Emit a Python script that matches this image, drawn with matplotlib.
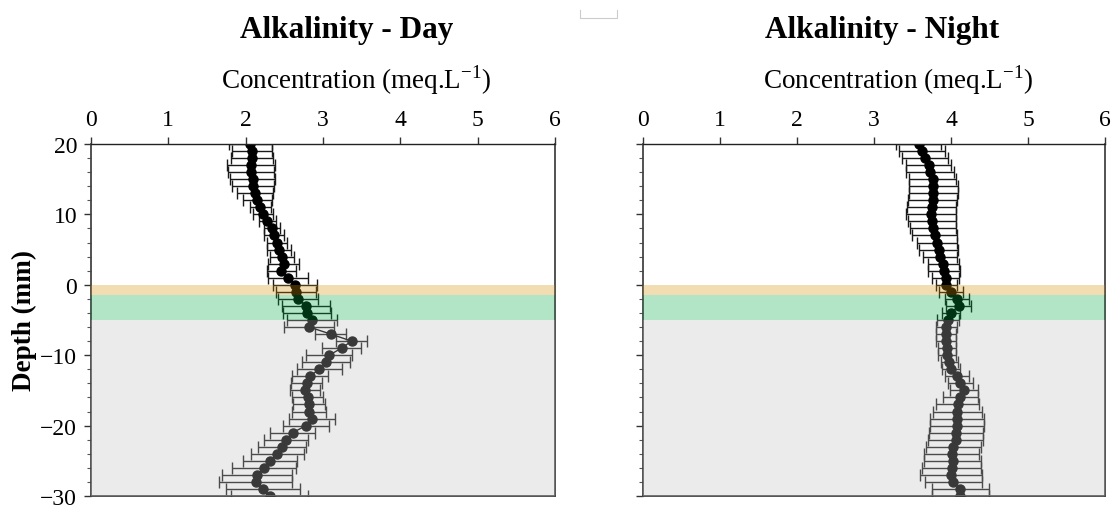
#!/usr/bin/env python
# %%
import matplotlib.pyplot as plt
import numpy as np
from matplotlib.lines import Line2D
from matplotlib.ticker import MultipleLocator

plt.rcParams['font.family'] = ['Liberation Serif', 'DejaVu Serif']
plt.rcParams['mathtext.fontset'] = 'custom'
plt.rcParams['mathtext.rm'] = 'Liberation Serif'

# %%
# depth of each profile point (mm), 0 = sediment surface
depth = [20, 19, 18, 17, 16, 15, 14, 13, 12, 11, 10, 9, 8, 7, 6, 5, 4, 3, 2, 1, 0,
         -1, -2, -3, -4, -5, -6, -7, -8, -9, -10, -11, -12, -13, -14, -15, -16, -17,
         -18, -19, -20, -21, -22, -23, -24, -25, -26, -27, -28, -29, -30]

# alkalinity day profile (meq/L) and its error
alk_day = [2.06, 2.08, 2.08, 2.07, 2.07, 2.09, 2.10, 2.12, 2.15, 2.19, 2.22, 2.28, 2.34,
           2.37, 2.40, 2.43, 2.47, 2.49, 2.46, 2.55, 2.64, 2.65, 2.68, 2.78, 2.79, 2.86,
           2.82, 3.10, 3.37, 3.24, 3.08, 3.04, 2.95, 2.83, 2.79, 2.77, 2.80, 2.82, 2.82,
           2.86, 2.78, 2.61, 2.52, 2.47, 2.41, 2.32, 2.24, 2.15, 2.13, 2.22, 2.31]
err_day = [.28, .26, .27, .31, .30, .29, .27, .23, .19, .14, .13, .11, .10, .13, .13, .16,
           .16, .20, .19, .26, .28, .26, .26, .31, .31, .32, .32, .20, .20, .25, .30, .31,
           .29, .23, .20, .19, .20, .21, .22, .30, .30, .29, .28, .31, .34, .35, .41, .45,
           .47, .48, .50]

# alkalinity night profile
alk_night = [3.58, 3.62, 3.66, 3.71, 3.73, 3.76, 3.77, 3.77, 3.76, 3.75, 3.74, 3.75, 3.77,
             3.79, 3.82, 3.84, 3.86, 3.90, 3.91, 3.93, 3.94, 4.00, 4.08, 4.10, 4.00, 3.96,
             3.94, 3.94, 3.94, 3.95, 3.95, 3.98, 4.00, 4.08, 4.12, 4.17, 4.12, 4.09, 4.08,
             4.08, 4.08, 4.07, 4.06, 4.03, 4.01, 4.02, 4.01, 4.00, 4.03, 4.12, 4.12]
err_night = [.29, .30, .30, .29, .31, .31, .32, .32, .32, .32, .32, .31, .30, .29, .26, .25,
             .22, .20, .21, .18, .14, .15, .16, .16, .12, .14, .14, .13, .13, .12, .12, .11,
             .12, .16, .16, .18, .23, .28, .32, .35, .35, .35, .36, .36, .36, .37, .38, .40,
             .37, .37, .37]

# layers (top, bottom, colour) shaded over the profiles
layers = [(0, -1.5, (0.83, 0.57, 0.0)),
          (-1.5, -5, (0.0, 0.67, 0.27)),
          (-5, -30, (0.74, 0.74, 0.74))]

titles = ['Alkalinity - Day', 'Alkalinity - Night']

# %%
fig = plt.figure(figsize=(11.12, 5.06), dpi=100)
ax1 = fig.add_axes([0.0818, 0.0178, 0.4173, 0.6957])
ax2 = fig.add_axes([0.5782, 0.0178, 0.4155, 0.6957])

for ax, x, xerr, title in zip([ax1, ax2], [alk_day, alk_night], [err_day, err_night], titles):
    ax.errorbar(x, depth, xerr=xerr, fmt='-o', color='k', ms=6.5, lw=1,
                ecolor='#1a1a1a', elinewidth=1, capsize=4, capthick=1, zorder=2)
    # shaded layers sit on top of the data
    for top, bot, col in layers:
        ax.axhspan(bot, top, color=col, alpha=0.3, lw=0, zorder=3)
    ax.set_xlim(0, 6)
    ax.set_ylim(-30, 20)
    ax.xaxis.tick_top()
    ax.xaxis.set_major_locator(MultipleLocator(1))
    ax.yaxis.set_major_locator(MultipleLocator(10))
    ax.yaxis.set_minor_locator(MultipleLocator(2))
    ax.tick_params(axis='both', which='major', labelsize=17, length=5, width=1,
                   color='#333333', pad=5)
    ax.tick_params(axis='y', which='minor', length=3, width=0.8, color='#555555')
    for s in ax.spines.values():
        s.set_color('#444444')
        s.set_linewidth(1.3)
    ax.spines['top'].set_color('#222222')
    ax.spines['top'].set_linewidth(1)

ax1.set_ylabel('Depth (mm)', fontsize=19.5, fontweight='bold', labelpad=2)
ax2.tick_params(axis='y', labelleft=False)

# titles and axis labels above each panel
fig.text(0.312, 0.940, titles[0], ha='center', va='center', fontsize=22.5, fontweight='bold')
fig.text(0.793, 0.940, titles[1], ha='center', va='center', fontsize=22.5, fontweight='bold')
fig.text(0.320, 0.842, 'Concentration (meq.L$^{-1}$)', ha='center', va='center', fontsize=19.5)
fig.text(0.808, 0.842, 'Concentration (meq.L$^{-1}$)', ha='center', va='center', fontsize=19.5)

# small stray box at top centre
fig.add_artist(Line2D([0.522, 0.522, 0.555, 0.555], [0.978, 0.962, 0.962, 0.978],
                      transform=fig.transFigure, color='#cccccc', lw=0.8))

plotfile = 'out.png'
fig.savefig(plotfile, dpi=100)
# %%
